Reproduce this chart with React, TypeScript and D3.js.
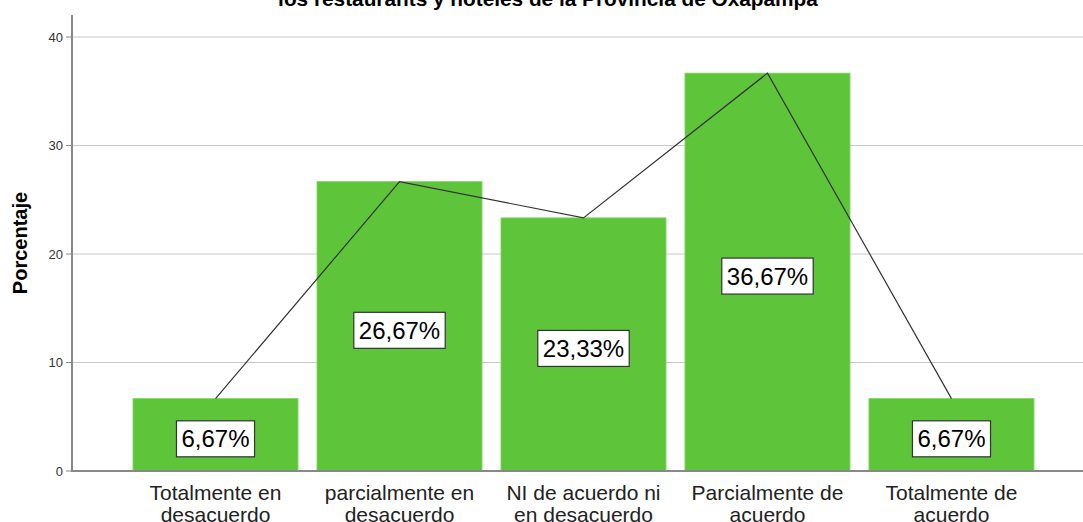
import { useRef, useEffect } from "react";
import * as d3 from "d3";

const categories = [
  ["Totalmente en", "desacuerdo"],
  ["parcialmente en", "desacuerdo"],
  ["NI de acuerdo ni", "en desacuerdo"],
  ["Parcialmente de", "acuerdo"],
  ["Totalmente de", "acuerdo"],
];
const percentages = [6.67, 26.67, 23.33, 36.67, 6.67];
const valueLabels = ["6,67%", "26,67%", "23,33%", "36,67%", "6,67%"];
const yTicks = [0, 10, 20, 30, 40];

const W = 1083;
const H = 522;
const FONT = "'Liberation Sans', Arial, sans-serif";
const BAR = "#5ec43a";

export default function App() {
  const svgRef = useRef<SVGSVGElement>(null);

  useEffect(() => {
    if (!svgRef.current) return;
    const svg = d3.select(svgRef.current);
    svg.selectAll("*").remove();

    const axisX = 72;
    const baseY = 471;
    const keys = categories.map((_, i) => String(i));

    const x = d3.scaleBand().domain(keys).range([133, 1034]).paddingInner(0.103).paddingOuter(0);
    const y = d3.scaleLinear().domain([0, 40]).range([baseY, 37]);

    // Title (clipped at the top)
    svg.append("text")
      .attr("x", 548).attr("y", 6)
      .attr("text-anchor", "middle")
      .style("font-family", FONT).style("font-size", "20.8px").style("font-weight", "bold")
      .text("los restaurants y hoteles de la Provincia de Oxapampa");

    // Grid
    svg.append("g")
      .selectAll("line")
      .data(yTicks.filter((d) => d > 0))
      .join("line")
      .attr("x1", axisX).attr("x2", W)
      .attr("y1", (d) => y(d)).attr("y2", (d) => y(d))
      .attr("stroke", "#c8c8c8").attr("stroke-width", 1.2);

    // Y tick labels + marks
    const yt = svg.append("g");
    yt.selectAll("text")
      .data(yTicks)
      .join("text")
      .attr("x", 63).attr("y", (d) => y(d))
      .attr("dy", "0.35em").attr("text-anchor", "end")
      .style("font-family", FONT).style("font-size", "13px").style("fill", "#333")
      .text((d) => d);
    yt.selectAll("line")
      .data(yTicks)
      .join("line")
      .attr("x1", 66).attr("x2", axisX)
      .attr("y1", (d) => y(d)).attr("y2", (d) => y(d))
      .attr("stroke", "#888");

    // Y label
    svg.append("text")
      .attr("transform", "translate(27,243) rotate(-90)")
      .attr("text-anchor", "middle")
      .style("font-family", FONT).style("font-size", "20px").style("font-weight", "bold")
      .text("Porcentaje");

    // Bars
    svg.append("g")
      .selectAll("rect")
      .data(percentages)
      .join("rect")
      .attr("x", (_, i) => x(keys[i])!)
      .attr("width", x.bandwidth())
      .attr("y", (d) => y(d))
      .attr("height", (d) => baseY - y(d))
      .attr("fill", BAR)
      .attr("stroke", "#7fd65e").attr("stroke-width", 0.8);

    // Axes lines
    svg.append("line")
      .attr("x1", axisX).attr("x2", axisX).attr("y1", 15).attr("y2", baseY)
      .attr("stroke", "#888").attr("stroke-width", 2);
    svg.append("line")
      .attr("x1", axisX - 1).attr("x2", W).attr("y1", baseY).attr("y2", baseY)
      .attr("stroke", "#888").attr("stroke-width", 2);

    // Line through bar tops
    const line = d3.line<number>()
      .x((_, i) => x(keys[i])! + x.bandwidth() / 2)
      .y((d) => y(d));
    svg.append("path")
      .datum(percentages)
      .attr("d", line)
      .attr("fill", "none")
      .attr("stroke", "#333").attr("stroke-width", 1.2);

    // Value labels
    const lbl = svg.append("g")
      .selectAll("g")
      .data(percentages)
      .join("g")
      .attr("transform", (d, i) => `translate(${x(keys[i])! + x.bandwidth() / 2},${(y(d) + baseY) / 2 + 4})`);
    lbl.append("text")
      .attr("text-anchor", "middle").attr("dy", "0.36em")
      .style("font-family", FONT).style("font-size", "24px")
      .text((_, i) => valueLabels[i]);
    lbl.each(function () {
      const g = d3.select(this);
      const t = g.select<SVGTextElement>("text").node()!;
      const w = t.getComputedTextLength();
      g.insert("rect", "text")
        .attr("x", -w / 2 - 5).attr("y", -18)
        .attr("width", w + 10).attr("height", 36)
        .attr("fill", "#fff").attr("stroke", "#333").attr("stroke-width", 1.2);
    });

    // X category labels
    const xl = svg.append("g")
      .selectAll("text")
      .data(categories)
      .join("text")
      .attr("x", (_, i) => x(keys[i])! + x.bandwidth() / 2)
      .attr("text-anchor", "middle")
      .style("font-family", FONT).style("font-size", "21px").style("fill", "#222");
    xl.selectAll("tspan")
      .data((d) => d)
      .join("tspan")
      .attr("x", function () {
        return (this.parentNode as SVGTextElement).getAttribute("x");
      })
      .attr("y", (_, j) => 500 + j * 22)
      .text((d) => d);
  }, []);

  return (
    <svg
      ref={svgRef}
      width={W}
      height={H}
      style={{ position: "absolute", left: 0, top: 0, background: "#fff" }}
    />
  );
}
